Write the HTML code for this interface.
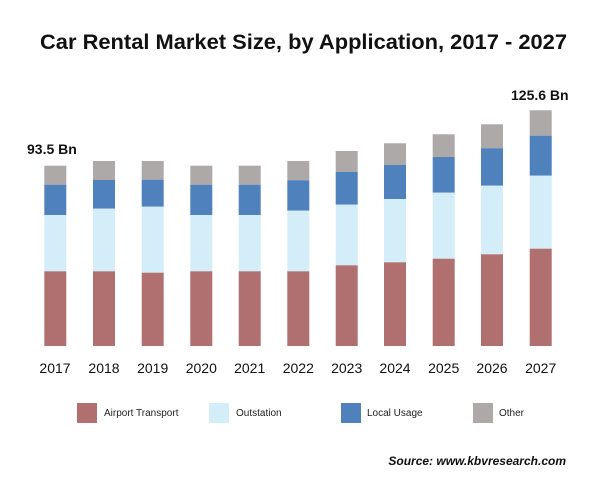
<!DOCTYPE html>
<html><head><meta charset="utf-8"><style>
body{margin:0;background:#fff;}
svg{display:block;font-family:"Liberation Sans",sans-serif;}
</style></head><body>
<svg width="600" height="483" xmlns="http://www.w3.org/2000/svg">
<rect width="600" height="483" fill="#fff"/>
<text x="40" y="49" textLength="527" lengthAdjust="spacingAndGlyphs" font-size="21" font-weight="bold" fill="#111">Car Rental Market Size, by Application, 2017 - 2027</text>
<g>
<g transform="translate(44.3,0)"><rect y="165.7" width="22" height="19" fill="#aea9a9"/><rect y="184.7" width="22" height="30.3" fill="#4f81bd"/><rect y="215" width="22" height="56.3" fill="#d3eef8"/><rect y="271.3" width="22" height="74.7" fill="#b07070"/></g>
<g transform="translate(93,0)"><rect y="161" width="22" height="19" fill="#aea9a9"/><rect y="180" width="22" height="28.7" fill="#4f81bd"/><rect y="208.7" width="22" height="62.6" fill="#d3eef8"/><rect y="271.3" width="22" height="74.7" fill="#b07070"/></g>
<g transform="translate(141.7,0)"><rect y="161" width="22" height="18.7" fill="#aea9a9"/><rect y="179.7" width="22" height="27" fill="#4f81bd"/><rect y="206.7" width="22" height="66" fill="#d3eef8"/><rect y="272.7" width="22" height="73.3" fill="#b07070"/></g>
<g transform="translate(190.3,0)"><rect y="165.7" width="22" height="19" fill="#aea9a9"/><rect y="184.7" width="22" height="30.3" fill="#4f81bd"/><rect y="215" width="22" height="56.3" fill="#d3eef8"/><rect y="271.3" width="22" height="74.7" fill="#b07070"/></g>
<g transform="translate(238.7,0)"><rect y="165.7" width="22" height="19" fill="#aea9a9"/><rect y="184.7" width="22" height="30.3" fill="#4f81bd"/><rect y="215" width="22" height="56.3" fill="#d3eef8"/><rect y="271.3" width="22" height="74.7" fill="#b07070"/></g>
<g transform="translate(287.3,0)"><rect y="161" width="22" height="19.3" fill="#aea9a9"/><rect y="180.3" width="22" height="30.4" fill="#4f81bd"/><rect y="210.7" width="22" height="60.6" fill="#d3eef8"/><rect y="271.3" width="22" height="74.7" fill="#b07070"/></g>
<g transform="translate(335.7,0)"><rect y="151" width="22" height="21" fill="#aea9a9"/><rect y="172" width="22" height="32.7" fill="#4f81bd"/><rect y="204.7" width="22" height="60.6" fill="#d3eef8"/><rect y="265.3" width="22" height="80.7" fill="#b07070"/></g>
<g transform="translate(384,0)"><rect y="143.3" width="22" height="21.7" fill="#aea9a9"/><rect y="165" width="22" height="34" fill="#4f81bd"/><rect y="199" width="22" height="63.3" fill="#d3eef8"/><rect y="262.3" width="22" height="83.7" fill="#b07070"/></g>
<g transform="translate(432.7,0)"><rect y="134.3" width="22" height="22.7" fill="#aea9a9"/><rect y="157" width="22" height="35.7" fill="#4f81bd"/><rect y="192.7" width="22" height="66" fill="#d3eef8"/><rect y="258.7" width="22" height="87.3" fill="#b07070"/></g>
<g transform="translate(481,0)"><rect y="124.3" width="22" height="24" fill="#aea9a9"/><rect y="148.3" width="22" height="37.4" fill="#4f81bd"/><rect y="185.7" width="22" height="68.6" fill="#d3eef8"/><rect y="254.3" width="22" height="91.7" fill="#b07070"/></g>
<g transform="translate(529.7,0)"><rect y="110.3" width="22" height="25.4" fill="#aea9a9"/><rect y="135.7" width="22" height="40" fill="#4f81bd"/><rect y="175.7" width="22" height="73" fill="#d3eef8"/><rect y="248.7" width="22" height="97.3" fill="#b07070"/></g>
</g>
<text x="27" y="154" font-size="14" font-weight="bold" fill="#111">93.5 Bn</text>
<text x="511" y="100" font-size="14" font-weight="bold" fill="#111">125.6 Bn</text>
<g font-size="14" fill="#111" text-anchor="middle">
<text x="55" y="373">2017</text><text x="104" y="373">2018</text><text x="152.7" y="373">2019</text><text x="201.3" y="373">2020</text><text x="249.7" y="373">2021</text><text x="298.3" y="373">2022</text><text x="346.7" y="373">2023</text><text x="395" y="373">2024</text><text x="443.7" y="373">2025</text><text x="492" y="373">2026</text><text x="540.7" y="373">2027</text>
</g>
<g font-size="10" fill="#222">
<rect x="77" y="403" width="20" height="20" fill="#b07070"/><text x="104" y="416">Airport Transport</text>
<rect x="209" y="403" width="20" height="20" fill="#d3eef8"/><text x="236" y="416">Outstation</text>
<rect x="341" y="403" width="20" height="20" fill="#4f81bd"/><text x="367" y="416">Local Usage</text>
<rect x="473" y="403" width="20" height="20" fill="#aea9a9"/><text x="499" y="416">Other</text>
</g>
<text x="566" y="465" text-anchor="end" font-size="12" font-weight="bold" font-style="italic" fill="#111">Source: www.kbvresearch.com</text>
</svg>
</body></html>
